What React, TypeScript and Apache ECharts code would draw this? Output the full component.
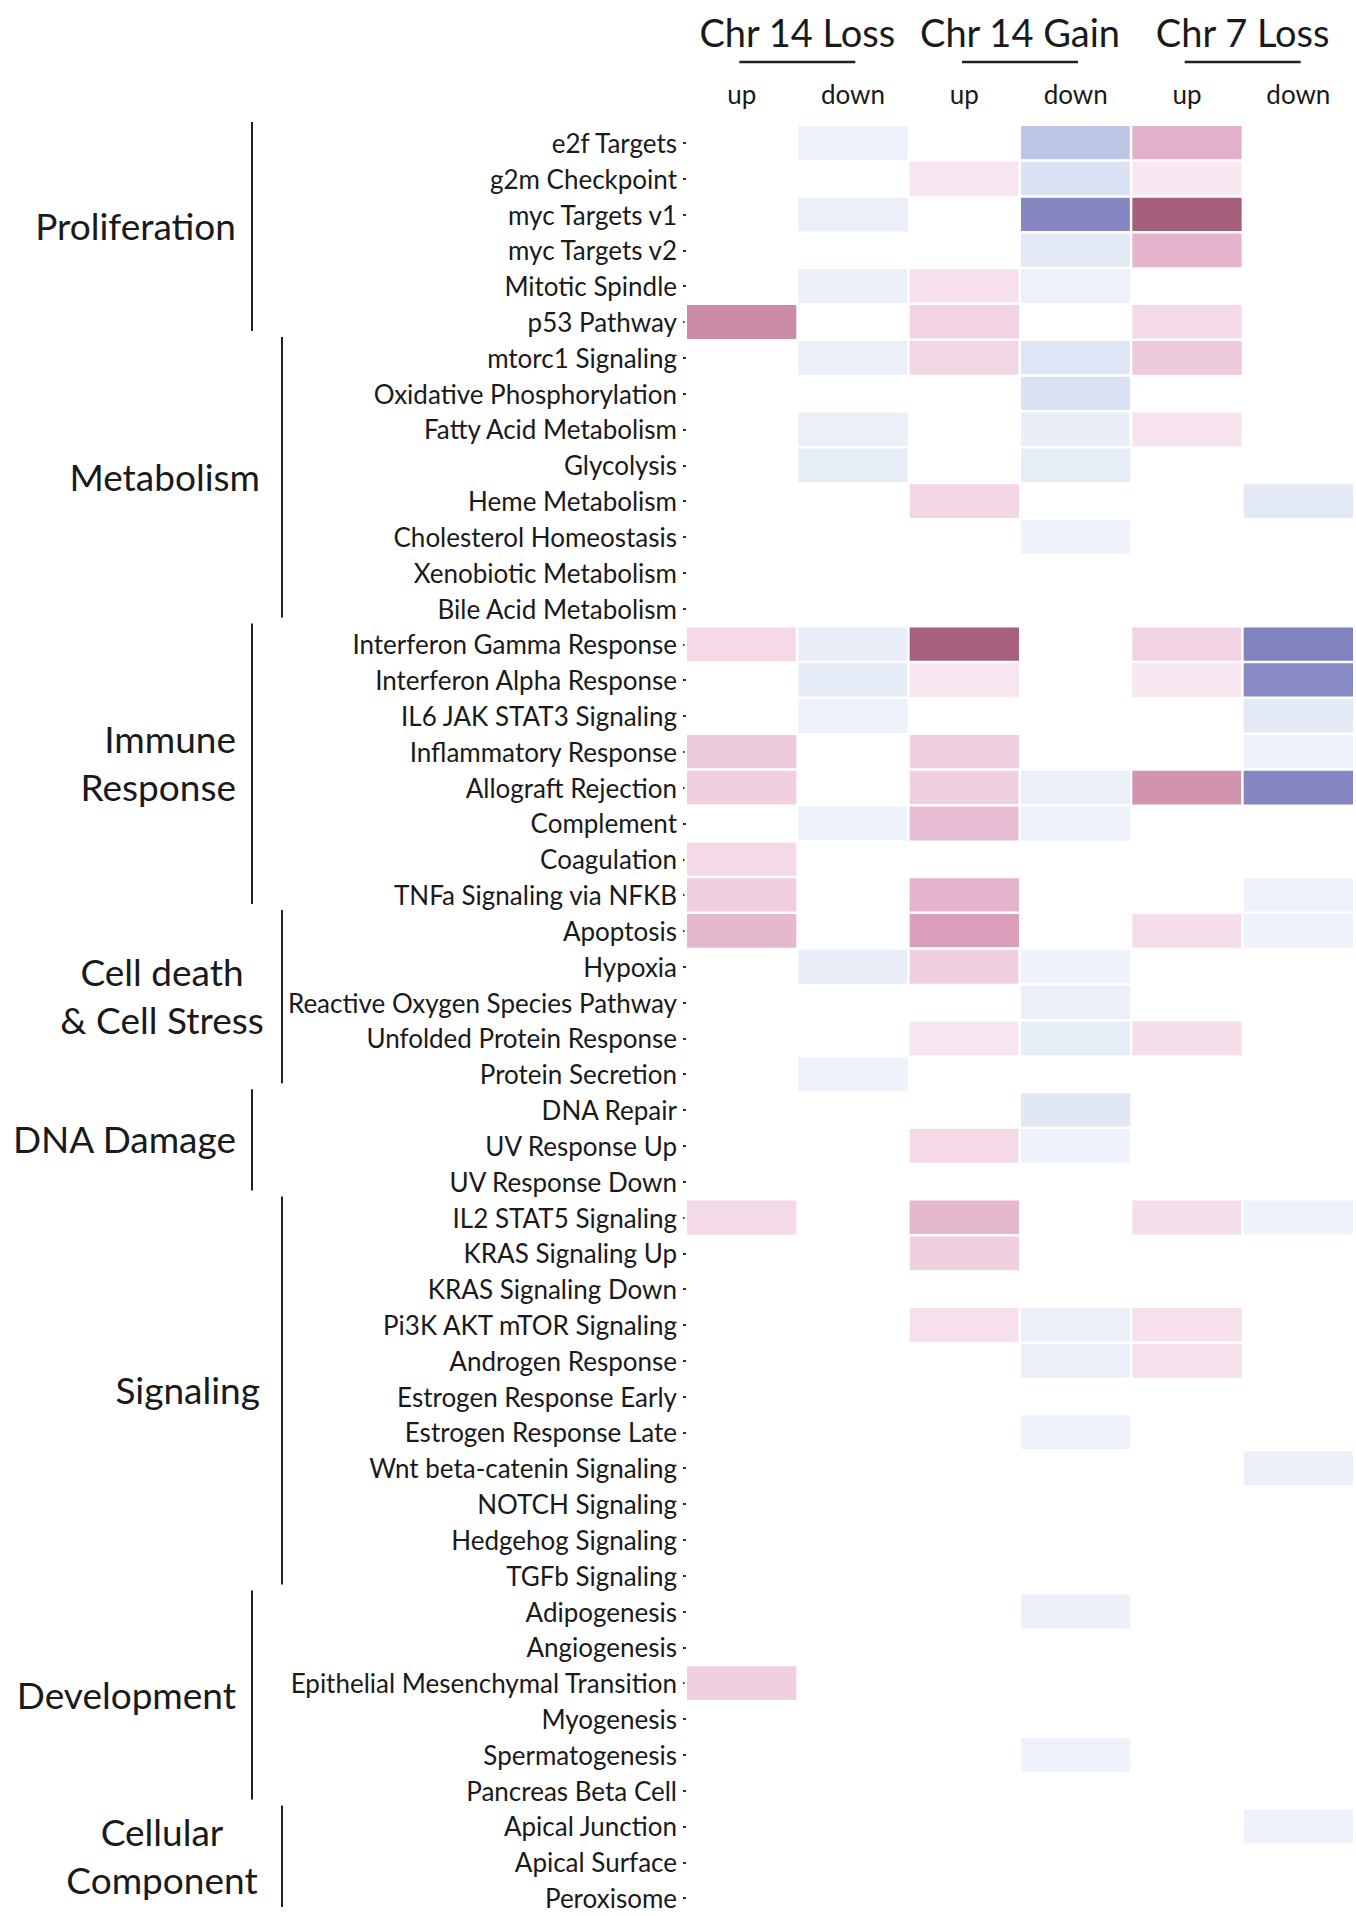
import React, { useEffect, useRef } from "react";
import * as echarts from "echarts";

const contrasts = ["Chr 14 Loss", "Chr 14 Gain", "Chr 7 Loss"];
const columns = [
  "Chr 14 Loss up",
  "Chr 14 Loss down",
  "Chr 14 Gain up",
  "Chr 14 Gain down",
  "Chr 7 Loss up",
  "Chr 7 Loss down",
];

const pathways = [
  "e2f Targets",
  "g2m Checkpoint",
  "myc Targets v1",
  "myc Targets v2",
  "Mitotic Spindle",
  "p53 Pathway",
  "mtorc1 Signaling",
  "Oxidative Phosphorylation",
  "Fatty Acid Metabolism",
  "Glycolysis",
  "Heme Metabolism",
  "Cholesterol Homeostasis",
  "Xenobiotic Metabolism",
  "Bile Acid Metabolism",
  "Interferon Gamma Response",
  "Interferon Alpha Response",
  "IL6 JAK STAT3 Signaling",
  "Inflammatory Response",
  "Allograft Rejection",
  "Complement",
  "Coagulation",
  "TNFa Signaling via NFKB",
  "Apoptosis",
  "Hypoxia",
  "Reactive Oxygen Species Pathway",
  "Unfolded Protein Response",
  "Protein Secretion",
  "DNA Repair",
  "UV Response Up",
  "UV Response Down",
  "IL2 STAT5 Signaling",
  "KRAS Signaling Up",
  "KRAS Signaling Down",
  "Pi3K AKT mTOR Signaling",
  "Androgen Response",
  "Estrogen Response Early",
  "Estrogen Response Late",
  "Wnt beta-catenin Signaling",
  "NOTCH Signaling",
  "Hedgehog Signaling",
  "TGFb Signaling",
  "Adipogenesis",
  "Angiogenesis",
  "Epithelial Mesenchymal Transition",
  "Myogenesis",
  "Spermatogenesis",
  "Pancreas Beta Cell",
  "Apical Junction",
  "Apical Surface",
  "Peroxisome",
];

const groupLabels = [
  ["Proliferation"],
  ["Metabolism"],
  ["Immune", "Response"],
  ["Cell death", "& Cell Stress"],
  ["DNA Damage"],
  ["Signaling"],
  ["Development"],
  ["Cellular", "Component"],
];
const groupSizes = [6, 8, 8, 5, 3, 11, 6, 3];

// signed enrichment scores (positive = up, negative = down), one array per column
const chr14LossUp = [
  0, 0, 0, 0, 0, 0.72, 0, 0, 0, 0,
  0, 0, 0, 0, 0.25, 0, 0, 0.38, 0.33, 0,
  0.25, 0.33, 0.48, 0, 0, 0, 0, 0, 0, 0,
  0.25, 0, 0, 0, 0, 0, 0, 0, 0, 0,
  0, 0, 0, 0.33, 0, 0, 0, 0, 0, 0,
];
const chr14LossDown = [
  -0.13, 0, -0.15, 0, -0.14, 0, -0.15, 0, -0.15, -0.17,
  0, 0, 0, 0, -0.16, -0.18, -0.13, 0, 0, -0.12,
  0, 0, 0, -0.16, 0, 0, -0.12, 0, 0, 0,
  0, 0, 0, 0, 0, 0, 0, 0, 0, 0,
  0, 0, 0, 0, 0, 0, 0, 0, 0, 0,
];
const chr14GainUp = [
  0, 0.17, 0, 0, 0.2, 0.3, 0.28, 0, 0, 0,
  0.28, 0, 0, 0, 0.94, 0.17, 0, 0.33, 0.33, 0.45,
  0, 0.5, 0.62, 0.33, 0, 0.17, 0, 0, 0.25, 0,
  0.48, 0.33, 0, 0.2, 0, 0, 0, 0, 0, 0,
  0, 0, 0, 0, 0, 0, 0, 0, 0, 0,
];
const chr14GainDown = [
  -0.48, -0.27, -0.9, -0.2, -0.13, 0, -0.24, -0.27, -0.16, -0.17,
  0, -0.12, 0, 0, 0, 0, 0, 0, -0.15, -0.13,
  0, 0, 0, -0.12, -0.15, -0.17, 0, -0.22, -0.12, 0,
  0, 0, 0, -0.15, -0.15, 0, -0.13, 0, 0, 0,
  0, -0.14, 0, 0, 0, -0.12, 0, 0, 0, 0,
];
const chr7LossUp = [
  0.52, 0.15, 0.95, 0.5, 0, 0.25, 0.38, 0, 0.18, 0,
  0, 0, 0, 0, 0.3, 0.15, 0, 0, 0.68, 0,
  0, 0, 0.22, 0, 0, 0.22, 0, 0, 0, 0,
  0.22, 0, 0, 0.2, 0.2, 0, 0, 0, 0, 0,
  0, 0, 0, 0, 0, 0, 0, 0, 0, 0,
];
const chr7LossDown = [
  0, 0, 0, 0, 0, 0, 0, 0, 0, 0,
  -0.2, 0, 0, 0, -0.92, -0.85, -0.2, -0.12, -0.9, 0,
  0, -0.12, -0.12, 0, 0, 0, 0, 0, 0, 0,
  -0.12, 0, 0, 0, 0, 0, 0, -0.14, 0, 0,
  0, 0, 0, 0, 0, 0, 0, -0.12, 0, 0,
];
const columnValues = [chr14LossUp, chr14LossDown, chr14GainUp, chr14GainDown, chr7LossUp, chr7LossDown];

const colorStops = [
  "#7a7aba", "#8d8fc8", "#aab3de", "#c9d3ed", "#e3eaf6",
  "#ffffff",
  "#f6e0ec", "#ecc6da", "#dca2bd", "#c07c98", "#9d5570",
];

const FONT = "Lato";
const TEXT = "#1a1a1a";

export default function App() {
  const ref = useRef<HTMLDivElement>(null);

  useEffect(() => {
    const chart = echarts.init(ref.current!, null, { renderer: "svg" });
    const data: any[] = [];
    columnValues.forEach((vals, c) =>
      vals.forEach((v, r) => {
        if (v !== 0) data.push([c, r, v]);
      })
    );

    chart.setOption({
      animation: false,
      backgroundColor: "#ffffff",
      grid: { left: 686, top: 125, width: 668, height: 1796 },
      xAxis: {
        type: "category",
        position: "top",
        data: columns,
        axisLine: { show: false },
        axisTick: { show: false },
        splitLine: { show: false },
        axisLabel: {
          formatter: (v: string) => v.split(" ").pop(),
          fontFamily: FONT,
          fontSize: 26,
          color: TEXT,
          margin: 18,
        },
      },
      yAxis: {
        type: "category",
        inverse: true,
        data: pathways,
        axisLine: { show: false },
        axisTick: {
          show: true,
          alignWithLabel: true,
          length: 3,
          lineStyle: { color: "#333", width: 2 },
        },
        splitLine: { show: false },
        axisLabel: { fontFamily: FONT, fontSize: 26, color: TEXT, margin: 9 },
      },
      visualMap: {
        show: false,
        type: "continuous",
        min: -1,
        max: 1,
        dimension: 2,
        inRange: { color: colorStops },
      },
      series: [
        {
          type: "heatmap",
          data,
          itemStyle: { borderColor: "#ffffff", borderWidth: 2.5 },
          emphasis: { disabled: true },
        },
      ],
    });

    const yc = (i: number) => chart.convertToPixel({ yAxisIndex: 0 }, pathways[i]) as number;
    const xc = (i: number) => chart.convertToPixel({ xAxisIndex: 0 }, columns[i]) as number;
    const pitch = yc(1) - yc(0);
    const elements: any[] = [];

    contrasts.forEach((name, k) => {
      const cx = (xc(2 * k) + xc(2 * k + 1)) / 2;
      elements.push({
        type: "text",
        x: cx,
        y: 32,
        style: { text: name, align: "center", verticalAlign: "middle", fontFamily: FONT, fontSize: 38, fill: TEXT },
      });
      elements.push({
        type: "line",
        shape: { x1: cx - 58, y1: 62, x2: cx + 58, y2: 62 },
        style: { stroke: "#222", lineWidth: 2.5 },
      });
    });

    const labelAlign = ["right", "right", "right", "center", "right", "right", "right", "center"];
    let start = 0;
    groupLabels.forEach((lines, g) => {
      const end = start + groupSizes[g] - 1;
      const top = yc(start) - pitch / 2;
      const bottom = yc(end) + pitch / 2;
      const alt = g % 2 === 1;
      const lineX = alt ? 282 : 252;
      elements.push({
        type: "line",
        shape: { x1: lineX, y1: top - 3, x2: lineX, y2: bottom - 9 },
        style: { stroke: "#222", lineWidth: 2 },
      });
      const align = labelAlign[g];
      const tx = align === "center" ? 162 : alt ? 260 : 236;
      elements.push({
        type: "text",
        x: tx,
        y: (top + bottom) / 2 - 7,
        style: {
          text: lines.join("\n"),
          align,
          verticalAlign: "middle",
          fontFamily: FONT,
          fontSize: 37,
          lineHeight: 48,
          fill: TEXT,
        },
      });
      start = end + 1;
    });

    chart.setOption({ graphic: { elements } });

    return () => chart.dispose();
  }, []);

  return (
    <div
      ref={ref}
      style={{ position: "absolute", left: 0, top: 0, width: 1356, height: 1916, background: "#fff" }}
    />
  );
}
